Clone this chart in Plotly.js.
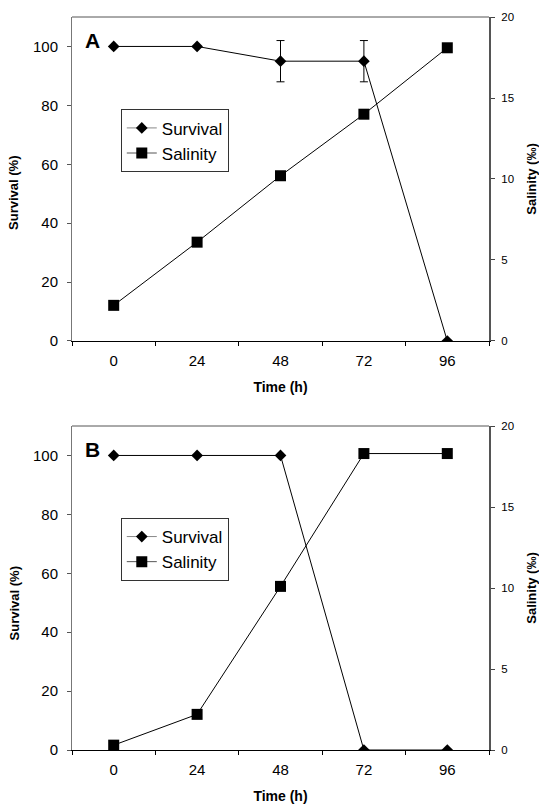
<!DOCTYPE html>
<html>
<head>
<meta charset="utf-8">
<script src="https://cdn.plot.ly/plotly-3.0.1.min.js"></script>
<style>html,body{margin:0;padding:0;background:#fff;}#chart{width:539px;height:805px;}</style>
</head>
<body>
<div id="chart"></div>
<script>
// Categories (time, h)
const timeLabels = ['0', '24', '48', '72', '96'];

// Panel A
const survivalA = [100, 100, 95, 95, 0];
const survivalAErr = [0, 0, 7, 7, 0];
const salinityA = [2.2, 6.1, 10.2, 14.0, 18.1];

// Panel B
const survivalB = [100, 100, 100, 0, 0];
const salinityB = [0.3, 2.2, 10.1, 18.3, 18.3];

const panelLabels = ['A', 'B'];
const seriesNames = ['Survival', 'Salinity'];
const axisTitles = {x: 'Time (h)', yLeft: 'Survival (%)', yRight: 'Salinity (‰)'};

const FONT = 'Arial, "Liberation Sans", sans-serif';
const diamond = {symbol: 'diamond', size: 9, color: '#000'};
const square = {symbol: 'square', size: 11, color: '#000'};
const lineStyle = {color: '#000', width: 1};

const traces = [
  // Panel A
  {x: timeLabels, y: survivalA, xaxis: 'x', yaxis: 'y', mode: 'lines+markers', name: seriesNames[0],
   marker: diamond, line: lineStyle, showlegend: false,
   error_y: {type: 'data', array: survivalAErr, visible: true, color: '#000', thickness: 1, width: 4}},
  {x: timeLabels, y: salinityA, xaxis: 'x', yaxis: 'y2', mode: 'lines+markers', name: seriesNames[1],
   marker: square, line: lineStyle, showlegend: false},
  // Panel B
  {x: timeLabels, y: survivalB, xaxis: 'x2', yaxis: 'y3', mode: 'lines+markers', name: seriesNames[0],
   marker: diamond, line: lineStyle, showlegend: false},
  {x: timeLabels, y: salinityB, xaxis: 'x2', yaxis: 'y4', mode: 'lines+markers', name: seriesNames[1],
   marker: square, line: lineStyle, showlegend: false},
  // legend entries
  {x: [null], y: [null], xaxis: 'x', yaxis: 'y', mode: 'lines+markers', name: seriesNames[0],
   marker: diamond, line: {color: '#888', width: 1}, legend: 'legend'},
  {x: [null], y: [null], xaxis: 'x', yaxis: 'y', mode: 'lines+markers', name: seriesNames[1],
   marker: square, line: {color: '#555', width: 1}, legend: 'legend'},
  {x: [null], y: [null], xaxis: 'x2', yaxis: 'y3', mode: 'lines+markers', name: seriesNames[0],
   marker: diamond, line: {color: '#888', width: 1}, legend: 'legend2'},
  {x: [null], y: [null], xaxis: 'x2', yaxis: 'y3', mode: 'lines+markers', name: seriesNames[1],
   marker: square, line: {color: '#555', width: 1}, legend: 'legend2'}
];

function xAxis(anchor) {
  return {
    anchor: anchor, type: 'category', range: [-0.5, 4.5], tickson: 'boundaries',
    ticks: 'outside', ticklen: 4, tickcolor: '#000', tickwidth: 1,
    showline: true, linecolor: '#000', linewidth: 1, showgrid: false, zeroline: false,
    tickfont: {family: FONT, size: 15, color: '#000'}, ticklabelstandoff: 6,
    title: {text: axisTitles.x, font: {family: FONT, size: 14, color: '#000', weight: 'bold'}, standoff: 14},
    fixedrange: true
  };
}
function yLeft(domain, anchor) {
  return {
    domain: domain, anchor: anchor, range: [0, 110], tickvals: [0, 20, 40, 60, 80, 100],
    ticks: 'outside', ticklen: 4, tickcolor: '#555', showline: true, linecolor: '#777', linewidth: 1,
    showgrid: false, zeroline: false,
    tickfont: {family: FONT, size: 15, color: '#000'}, ticklabelstandoff: 6
  };
}
function yRight(overlay, anchor) {
  return {
    overlaying: overlay, anchor: anchor, side: 'right', range: [0, 20], tickvals: [0, 5, 10, 15, 20],
    ticks: 'outside', ticklen: 4, tickcolor: '#444', showline: true, linecolor: '#555', linewidth: 2,
    showgrid: false, zeroline: false,
    tickfont: {family: FONT, size: 11.5, color: '#000'}, ticklabelstandoff: 4,
    title: {text: axisTitles.yRight, font: {family: FONT, size: 13, color: '#000', weight: 'bold'}, standoff: 14}
  };
}

const topDomain = [0.558, 1];
const botDomain = [0, 0.442];

const legendStyle = (yPos) => ({
  x: 0.117, y: yPos, xanchor: 'left', yanchor: 'top', bgcolor: '#fff',
  bordercolor: '#333', borderwidth: 1, font: {family: FONT, size: 17, color: '#000'},
  tracegroupgap: 0, itemwidth: 30
});

const yTitleFont = {family: FONT, size: 13, color: '#000', weight: 'bold'};
const panelFont = {family: FONT, size: 21, color: '#000', weight: 'bold'};

const layout = {
  width: 539, height: 805,
  margin: {l: 72, r: 50, t: 17, b: 55},
  paper_bgcolor: '#fff', plot_bgcolor: '#fff',
  font: {family: FONT, color: '#000'},
  showlegend: true,
  xaxis: xAxis('y'),
  xaxis2: xAxis('y3'),
  yaxis: yLeft(topDomain, 'x'),
  yaxis2: yRight('y', 'x'),
  yaxis3: yLeft(botDomain, 'x2'),
  yaxis4: yRight('y3', 'x2'),
  legend: legendStyle(0.874),
  legend2: legendStyle(0.3165),
  shapes: [
    {type: 'line', xref: 'x domain', yref: 'y domain', x0: 0, x1: 1, y0: 1, y1: 1, line: {color: '#555', width: 1}},
    {type: 'line', xref: 'x2 domain', yref: 'y3 domain', x0: 0, x1: 1, y0: 1, y1: 1, line: {color: '#555', width: 1}}
  ],
  annotations: [
    {text: panelLabels[0], xref: 'x domain', yref: 'y domain', x: 0.026, y: 0.97, xanchor: 'left', yanchor: 'top',
     showarrow: false, font: panelFont},
    {text: panelLabels[1], xref: 'x2 domain', yref: 'y3 domain', x: 0.026, y: 0.97, xanchor: 'left', yanchor: 'top',
     showarrow: false, font: panelFont},
    {text: axisTitles.yLeft, xref: 'paper', yref: 'paper', x: -0.139, y: 0.76, xanchor: 'center', yanchor: 'middle',
     textangle: -90, showarrow: false, font: yTitleFont},
    {text: axisTitles.yLeft, xref: 'paper', yref: 'paper', x: -0.139, y: 0.2, xanchor: 'center', yanchor: 'middle',
     textangle: -90, showarrow: false, font: yTitleFont}
  ]
};

Plotly.newPlot('chart', traces, layout, {displayModeBar: false, staticPlot: true});
</script>
</body>
</html>
